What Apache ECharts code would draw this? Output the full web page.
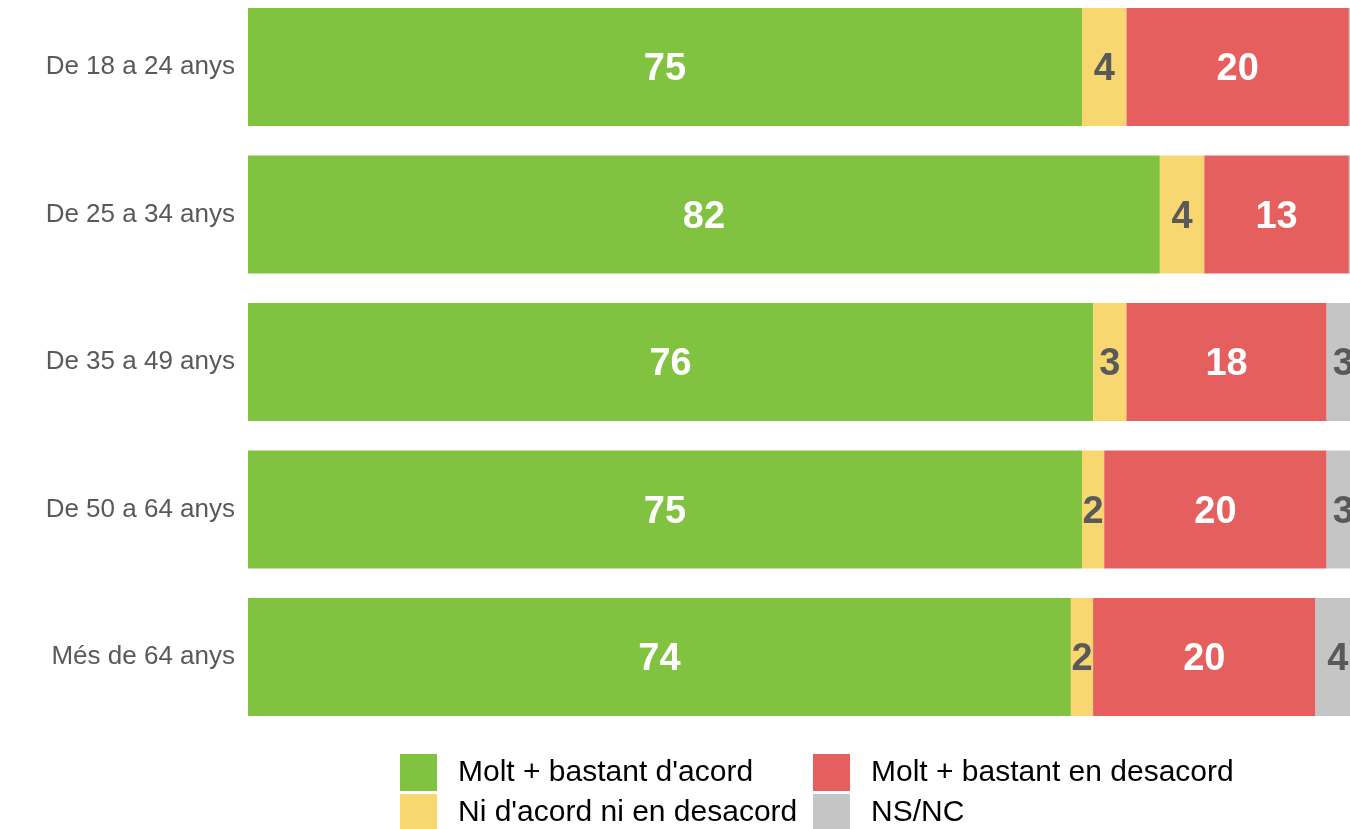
<!DOCTYPE html>
<html>
<head>
<meta charset="utf-8">
<script src="https://cdn.jsdelivr.net/npm/echarts@6/dist/echarts.min.js"></script>
<style>
html,body{margin:0;padding:0;background:#fff;overflow:hidden;width:1350px;height:829px;position:relative;}
#chart{position:absolute;left:0;top:-20px;width:1400px;height:900px;}
</style>
</head>
<body>
<div id="chart"></div>
<script>
const categories = ["De 18 a 24 anys", "De 25 a 34 anys", "De 35 a 49 anys", "De 50 a 64 anys", "Més de 64 anys"];
const seriesNames = ["Molt + bastant d'acord", "Ni d'acord ni en desacord", "Molt + bastant en desacord", "NS/NC"];
const acord = [75, 82, 76, 75, 74];
const niNi = [4, 4, 3, 2, 2];
const desacord = [20, 13, 18, 20, 20];
const nsnc = [1, 1, 3, 3, 4];

const colors = ["#81c341", "#f8d770", "#e65f5f", "#c5c5c5"];
const labelColors = ["#ffffff", "#595959", "#ffffff", "#595959"];
const values = [acord, niNi, desacord, nsnc];

const chart = echarts.init(document.getElementById('chart'), null, {renderer: 'canvas'});
const series = values.map((v, i) => ({
  name: seriesNames[i],
  type: 'bar',
  stack: 'total',
  data: v,
  barWidth: 118,
  clip: false,
  itemStyle: {color: colors[i]},
  label: {
    show: true,
    position: 'inside',
    offset: [0, 3],
    formatter: p => (p.value < 2 ? '' : String(p.value)),
    color: labelColors[i],
    fontFamily: 'Liberation Sans, Arial, sans-serif',
    fontWeight: 'bold',
    fontSize: 38
  },
  emphasis: {disabled: true}
}));

const legendBase = {
  orient: 'vertical',
  top: 774,
  padding: 0,
  itemWidth: 37,
  itemHeight: 37,
  itemGap: 3,
  icon: 'rect',
  selectedMode: false,
  textStyle: {
    fontFamily: 'Liberation Sans, Arial, sans-serif',
    fontSize: 30,
    color: '#000000',
    padding: [4, 0, 0, 16]
  }
};

chart.setOption({
  animation: false,
  backgroundColor: '#ffffff',
  grid: {left: 248, width: 1112, top: 13.25, height: 737.5, containLabel: false},
  xAxis: {
    type: 'value', min: 0, max: 100, show: false
  },
  yAxis: {
    type: 'category',
    data: categories,
    inverse: true,
    axisLine: {show: false},
    axisTick: {show: false},
    axisLabel: {
      margin: 13,
      fontFamily: 'Liberation Sans, Arial, sans-serif',
      fontSize: 26,
      color: '#595959'
    }
  },
  legend: [
    Object.assign({}, legendBase, {left: 400, data: [seriesNames[0], seriesNames[1]]}),
    Object.assign({}, legendBase, {left: 813, data: [seriesNames[2], seriesNames[3]]})
  ],
  series: series
});
</script>
</body>
</html>
